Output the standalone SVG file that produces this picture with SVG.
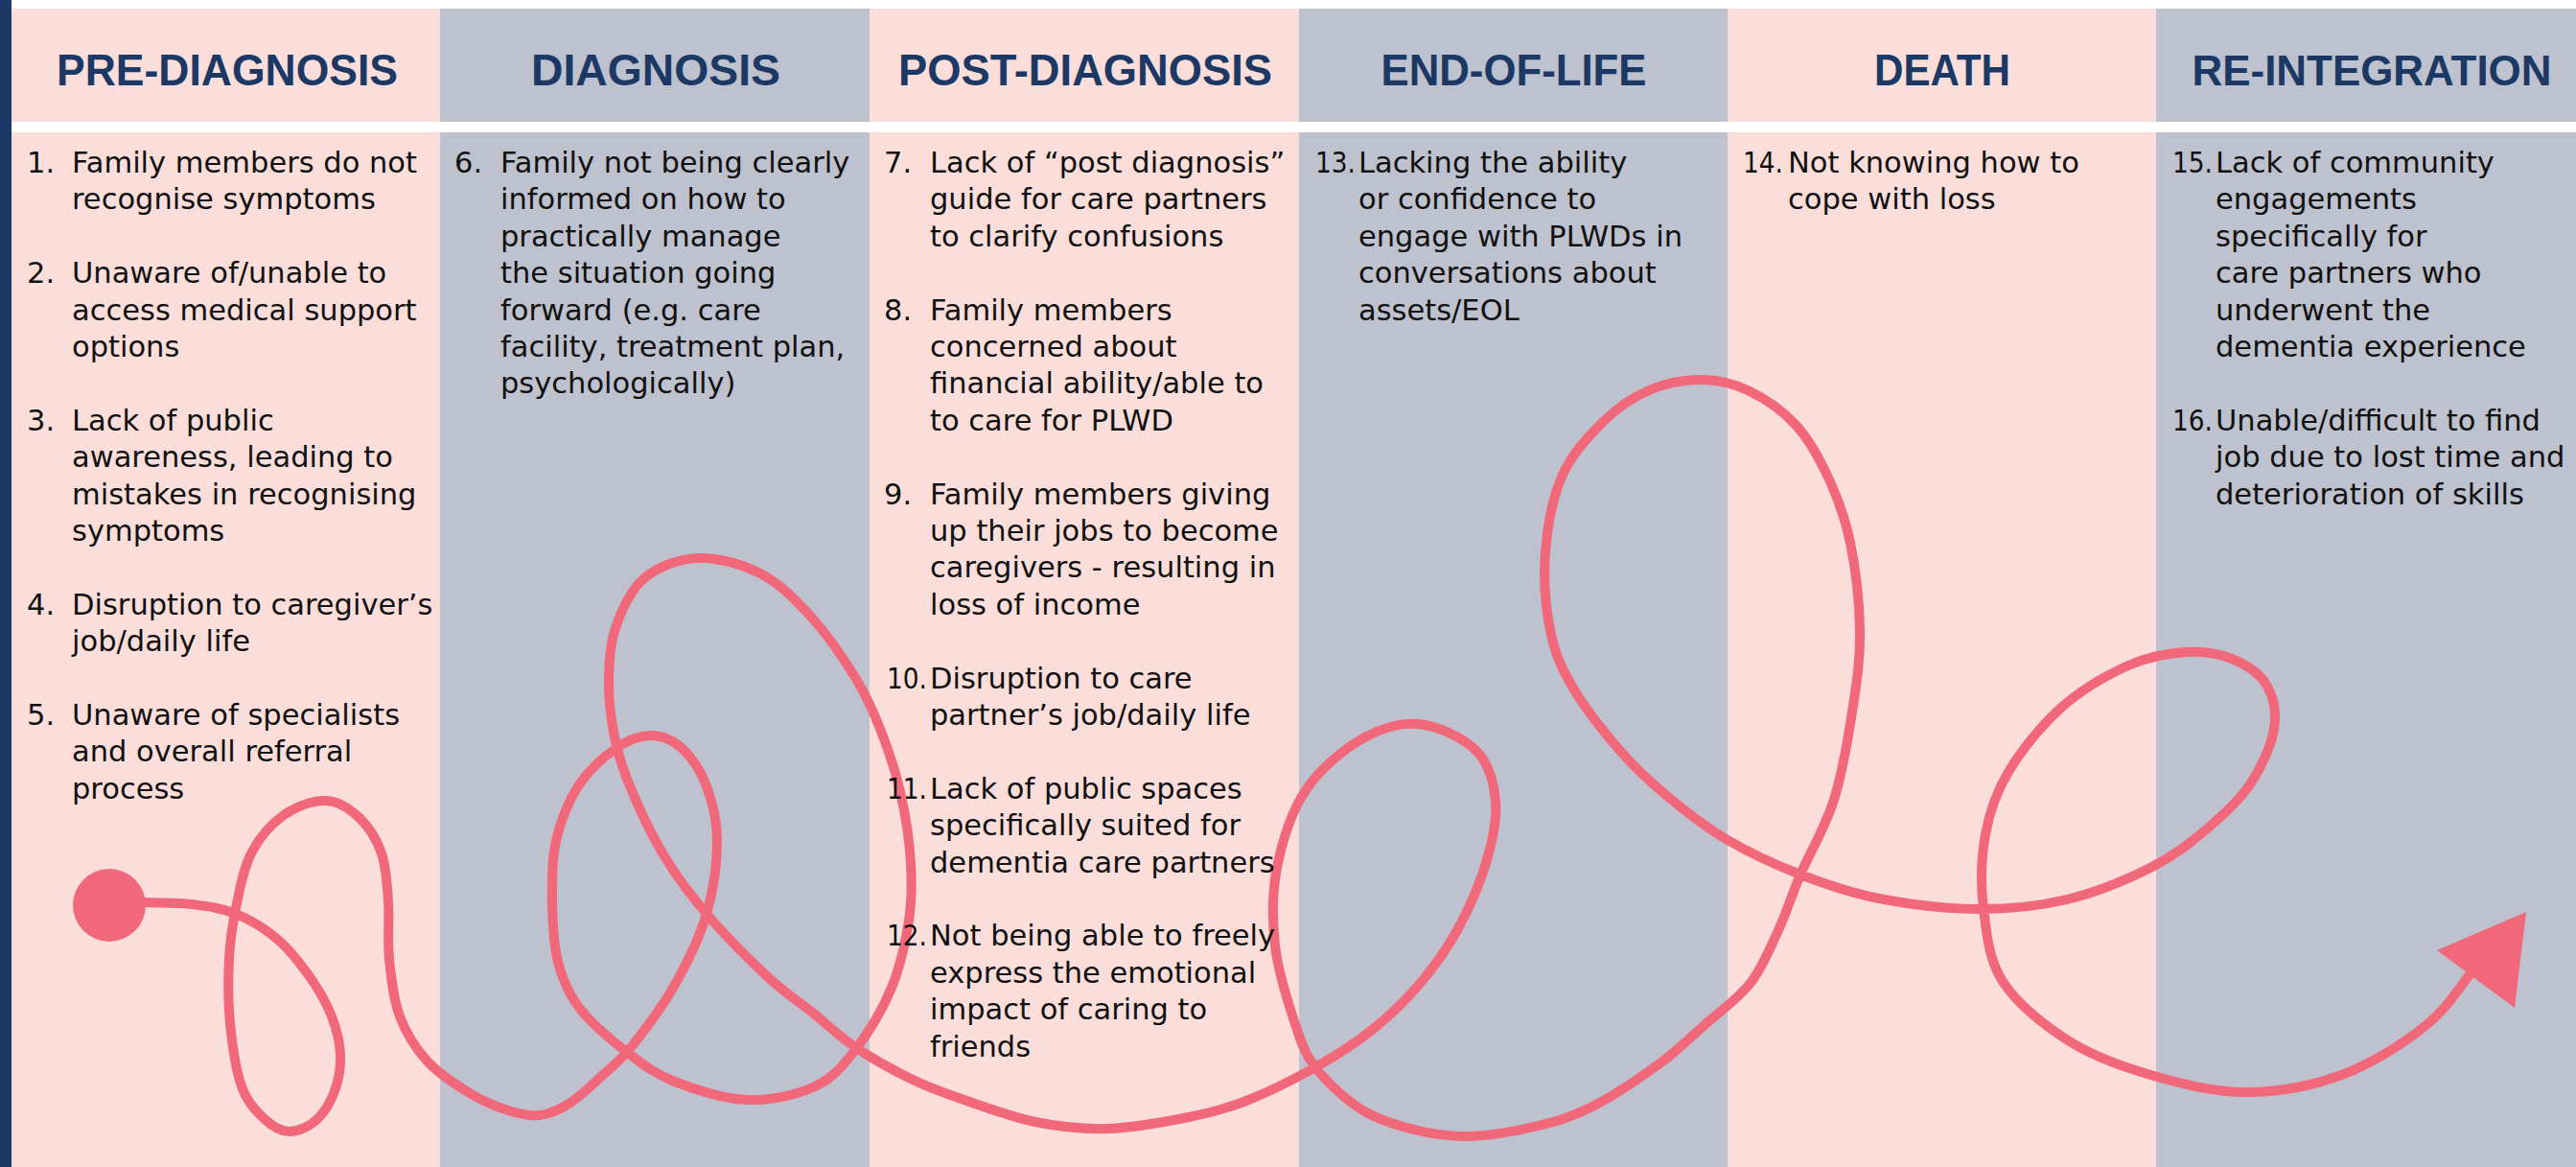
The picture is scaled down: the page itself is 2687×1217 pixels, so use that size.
<svg xmlns="http://www.w3.org/2000/svg" width="2687" height="1217" viewBox="0 0 2687 1217">
<style>
.pink{fill:#FBDEDA}
.grey{fill:#BEC2CE}
.hd{font-family:"Liberation Sans",Arial,sans-serif;font-weight:bold;font-size:47px;fill:#1C3864;text-anchor:middle}
.tx{font-family:"DejaVu Sans","Liberation Sans",sans-serif;font-size:30.5px;fill:#111111}
.curve{fill:none;stroke:#F2687B;stroke-width:10;stroke-linecap:round;stroke-linejoin:round}
.dot{fill:#F2687B}
</style>
<rect x="0" y="0" width="2687" height="1217" fill="#FFFFFF"/>
<g id="backgrounds">
<rect x="0" y="0" width="12" height="1217" fill="#1C3864"/>
<rect class="pink" x="12" y="9" width="447" height="118"/>
<rect class="grey" x="459" y="9" width="448" height="118"/>
<rect class="pink" x="907" y="9" width="448" height="118"/>
<rect class="grey" x="1355" y="9" width="447" height="118"/>
<rect class="pink" x="1802" y="9" width="447" height="118"/>
<rect class="grey" x="2249" y="9" width="438" height="118"/>
<rect class="pink" x="12" y="138" width="447" height="1079"/>
<rect class="grey" x="459" y="138" width="448" height="1079"/>
<rect class="pink" x="907" y="138" width="448" height="1079"/>
<rect class="grey" x="1355" y="138" width="447" height="1079"/>
<rect class="pink" x="1802" y="138" width="447" height="1079"/>
<rect class="grey" x="2249" y="138" width="438" height="1079"/>
</g>
<g id="connectors">
<circle class="dot" cx="114" cy="944" r="38"/>
<path class="curve" d="M150,941 C166.7,941.7 184,941 200,943 C216,945 231,946.8 246,953 C261,959.2 277,968.8 290,980 C303,991.2 314.7,1006.7 324,1020 C333.3,1033.3 340.8,1046.7 346,1060 C351.2,1073.3 354.5,1087 355,1100 C355.5,1113 353.2,1126.7 349,1138 C344.8,1149.3 337.8,1161 330,1168 C322.2,1175 311,1180.2 302,1180 C293,1179.8 284.3,1174.8 276,1167 C267.7,1159.2 258,1149.7 252,1133 C246,1116.3 242.2,1089.2 240,1067 C237.8,1044.8 238,1020 239,1000 C240,980 242.2,965.3 246,947 C249.8,928.7 253.7,906.2 262,890 C270.3,873.8 283,859.2 296,850 C309,840.8 326.8,834.5 340,835 C353.2,835.5 365.3,843.8 375,853 C384.7,862.2 393,875.5 398,890 C403,904.5 403.7,921.7 405,940 C406.3,958.3 404,980 406,1000 C408,1020 410.3,1042.2 417,1060 C423.7,1077.8 433.8,1093.7 446,1107 C458.2,1120.3 476,1131.5 490,1140 C504,1148.5 517.8,1154.2 530,1158 C542.2,1161.8 552.2,1164.3 563,1163 C573.8,1161.7 583.8,1157.2 595,1150 C606.2,1142.8 619.2,1130 630,1120 C640.8,1110 647.5,1105.8 660,1090 C672.5,1074.2 692.2,1047.8 705,1025 C717.8,1002.2 729.8,977.7 737,953 C744.2,928.3 748,899.2 748,877 C748,854.8 743,836 737,820 C731,804 721.5,789.8 712,781 C702.5,772.2 691.5,767.2 680,767 C668.5,766.8 655.8,771.2 643,780 C630.2,788.8 613.5,803.8 603,820 C592.5,836.2 584.5,857 580,877 C575.5,897 575.7,919 576,940 C576.3,961 577.2,984.3 582,1003 C586.8,1021.7 592.8,1036.2 605,1052 C617.2,1067.8 638.5,1085.3 655,1098 C671.5,1110.7 683.2,1119.8 704,1128 C724.8,1136.2 755.7,1146.2 780,1147 C804.3,1147.8 831.3,1141.7 850,1133 C868.7,1124.3 878.7,1112.2 892,1095 C905.3,1077.8 920.7,1052.5 930,1030 C939.3,1007.5 944.7,981.7 948,960 C951.3,938.3 951.3,921.7 950,900 C948.7,878.3 945,852.5 940,830 C935,807.5 927.8,785.3 920,765 C912.2,744.7 905.5,728.5 893,708 C880.5,687.5 861.7,660.3 845,642 C828.3,623.7 812.5,608 793,598 C773.5,588 748.2,581.2 728,582 C707.8,582.8 686.3,590.8 672,603 C657.7,615.2 648.2,636.8 642,655 C635.8,673.2 635,692.3 635,712 C635,731.7 637.8,753.8 642,773 C646.2,792.2 651.5,807 660,827 C668.5,847 680.2,872 693,893 C705.8,914 719.2,932.2 737,953 C754.8,973.8 781.2,1000.5 800,1018 C818.8,1035.5 834.7,1045.7 850,1058 C865.3,1070.3 875.3,1080.8 892,1092 C908.7,1103.2 932,1116.2 950,1125 C968,1133.8 978.3,1137.5 1000,1145 C1021.7,1152.5 1054,1164.7 1080,1170 C1106,1175.3 1129.3,1177.8 1156,1177 C1182.7,1176.2 1216,1169.8 1240,1165 C1264,1160.2 1278,1156.7 1300,1148 C1322,1139.3 1350.3,1125.2 1372,1113 C1393.7,1100.8 1412,1089.3 1430,1075 C1448,1060.7 1465,1044.5 1480,1027 C1495,1009.5 1508.3,991.2 1520,970 C1531.7,948.8 1543.3,922.3 1550,900 C1556.7,877.7 1561.7,855.5 1560,836 C1558.3,816.5 1553.3,796.5 1540,783 C1526.7,769.5 1500,757 1480,755 C1460,753 1439.7,759.5 1420,771 C1400.3,782.5 1376.7,801.7 1362,824 C1347.3,846.3 1337.3,878 1332,905 C1326.7,932 1327,959.3 1330,986 C1333,1012.7 1343,1043.8 1350,1065 C1357,1086.2 1360.3,1097.7 1372,1113 C1383.7,1128.3 1402.8,1146.2 1420,1157 C1437.2,1167.8 1456.2,1173.3 1475,1178 C1493.8,1182.7 1512.2,1185.5 1533,1185 C1553.8,1184.5 1579,1180 1600,1175 C1621,1170 1637.3,1165.8 1659,1155 C1680.7,1144.2 1710,1124.5 1730,1110 C1750,1095.5 1763,1082.2 1779,1068 C1795,1053.8 1813.3,1041.3 1826,1025 C1838.7,1008.7 1846.3,988.8 1855,970 C1863.7,951.2 1868.3,934.7 1878,912 C1887.7,889.3 1903.8,863.3 1913,834 C1922.2,804.7 1928.5,765.5 1933,736 C1937.5,706.5 1940.5,685.3 1940,657 C1939.5,628.7 1935.5,592.5 1930,566 C1924.5,539.5 1916.5,518.5 1907,498 C1897.5,477.5 1887,458.2 1873,443 C1859,427.8 1839.7,414.8 1823,407 C1806.3,399.2 1790.2,396 1773,396 C1755.8,396 1736.7,399.8 1720,407 C1703.3,414.2 1688,424.3 1673,439 C1658,453.7 1640.2,472.3 1630,495 C1619.8,517.7 1614.2,548 1612,575 C1609.8,602 1612.3,633.5 1617,657 C1621.7,680.5 1627.8,695 1640,716 C1652.2,737 1673.3,763.8 1690,783 C1706.7,802.2 1721.3,815.5 1740,831 C1758.7,846.5 1779,862.5 1802,876 C1825,889.5 1851.7,901.8 1878,912 C1904.3,922.2 1929.2,931 1960,937 C1990.8,943 2030.3,947.8 2063,948 C2095.7,948.2 2126,945.2 2156,938 C2186,930.8 2219,917 2243,905 C2267,893 2282.7,880.5 2300,866 C2317.3,851.5 2335,835.7 2347,818 C2359,800.3 2369.2,777.3 2372,760 C2374.8,742.7 2371.3,726.2 2364,714 C2356.7,701.8 2342,692.7 2328,687 C2314,681.3 2298,678.8 2280,680 C2262,681.2 2241.7,684.3 2220,694 C2198.3,703.7 2170.8,719.5 2150,738 C2129.2,756.5 2108.2,783 2095,805 C2081.8,827 2075.3,846.2 2071,870 C2066.7,893.8 2065.8,922.2 2069,948 C2072.2,973.8 2074.5,1001.7 2090,1025 C2105.5,1048.3 2134.7,1071.5 2162,1088 C2189.3,1104.5 2223.2,1115.5 2254,1124 C2284.8,1132.5 2315.2,1139.7 2347,1139 C2378.8,1138.3 2414.2,1131.8 2445,1120 C2475.8,1108.2 2508.7,1087.2 2532,1068 C2555.3,1048.8 2567.3,1026 2585,1005"/>
<polygon class="dot" points="2542,991 2635,951 2623,1051"/>
</g>
<g id="pre-diagnosis">
<text class="hd" x="237" y="89" textLength="356" lengthAdjust="spacingAndGlyphs">PRE-DIAGNOSIS</text>
<text class="tx"><tspan x="28" y="180">1.</tspan><tspan x="75" y="180">Family members do not</tspan><tspan x="75" y="218.4">recognise symptoms</tspan></text>
<text class="tx"><tspan x="28" y="295.2">2.</tspan><tspan x="75" y="295.2">Unaware of/unable to</tspan><tspan x="75" y="333.6">access medical support</tspan><tspan x="75" y="372">options</tspan></text>
<text class="tx"><tspan x="28" y="448.8">3.</tspan><tspan x="75" y="448.8">Lack of public</tspan><tspan x="75" y="487.2">awareness, leading to</tspan><tspan x="75" y="525.6">mistakes in recognising</tspan><tspan x="75" y="564">symptoms</tspan></text>
<text class="tx"><tspan x="28" y="640.8">4.</tspan><tspan x="75" y="640.8">Disruption to caregiver’s</tspan><tspan x="75" y="679.2">job/daily life</tspan></text>
<text class="tx"><tspan x="28" y="756">5.</tspan><tspan x="75" y="756">Unaware of specialists</tspan><tspan x="75" y="794.4">and overall referral</tspan><tspan x="75" y="832.8">process</tspan></text>
</g>
<g id="diagnosis">
<text class="hd" x="684" y="89" textLength="260" lengthAdjust="spacingAndGlyphs">DIAGNOSIS</text>
<text class="tx"><tspan x="474" y="180">6.</tspan><tspan x="522" y="180">Family not being clearly</tspan><tspan x="522" y="218.4">informed on how to</tspan><tspan x="522" y="256.8">practically manage</tspan><tspan x="522" y="295.2">the situation going</tspan><tspan x="522" y="333.6">forward (e.g. care</tspan><tspan x="522" y="372">facility, treatment plan,</tspan><tspan x="522" y="410.4">psychologically)</tspan></text>
</g>
<g id="post-diagnosis">
<text class="hd" x="1132" y="89" textLength="390" lengthAdjust="spacingAndGlyphs">POST-DIAGNOSIS</text>
<text class="tx"><tspan x="922" y="180">7.</tspan><tspan x="970" y="180">Lack of “post diagnosis”</tspan><tspan x="970" y="218.4">guide for care partners</tspan><tspan x="970" y="256.8">to clarify confusions</tspan></text>
<text class="tx"><tspan x="922" y="333.6">8.</tspan><tspan x="970" y="333.6">Family members</tspan><tspan x="970" y="372">concerned about</tspan><tspan x="970" y="410.4">financial ability/able to</tspan><tspan x="970" y="448.8">to care for PLWD</tspan></text>
<text class="tx"><tspan x="922" y="525.6">9.</tspan><tspan x="970" y="525.6">Family members giving</tspan><tspan x="970" y="564">up their jobs to become</tspan><tspan x="970" y="602.4">caregivers - resulting in</tspan><tspan x="970" y="640.8">loss of income</tspan></text>
<text class="tx"><tspan x="925" y="717.6" textLength="42" lengthAdjust="spacingAndGlyphs">10.</tspan><tspan x="970" y="717.6">Disruption to care</tspan><tspan x="970" y="756">partner’s job/daily life</tspan></text>
<text class="tx"><tspan x="925" y="832.8" textLength="42" lengthAdjust="spacingAndGlyphs">11.</tspan><tspan x="970" y="832.8">Lack of public spaces</tspan><tspan x="970" y="871.2">specifically suited for</tspan><tspan x="970" y="909.6">dementia care partners</tspan></text>
<text class="tx"><tspan x="925" y="986.4" textLength="42" lengthAdjust="spacingAndGlyphs">12.</tspan><tspan x="970" y="986.4">Not being able to freely</tspan><tspan x="970" y="1024.8">express the emotional</tspan><tspan x="970" y="1063.2">impact of caring to</tspan><tspan x="970" y="1101.6">friends</tspan></text>
</g>
<g id="end-of-life">
<text class="hd" x="1579" y="89" textLength="277" lengthAdjust="spacingAndGlyphs">END-OF-LIFE</text>
<text class="tx"><tspan x="1372" y="180" textLength="42" lengthAdjust="spacingAndGlyphs">13.</tspan><tspan x="1417" y="180">Lacking the ability</tspan><tspan x="1417" y="218.4">or confidence to</tspan><tspan x="1417" y="256.8">engage with PLWDs in</tspan><tspan x="1417" y="295.2">conversations about</tspan><tspan x="1417" y="333.6">assets/EOL</tspan></text>
</g>
<g id="death">
<text class="hd" x="2026" y="89" textLength="142" lengthAdjust="spacingAndGlyphs">DEATH</text>
<text class="tx"><tspan x="1818" y="180" textLength="42" lengthAdjust="spacingAndGlyphs">14.</tspan><tspan x="1865" y="180">Not knowing how to</tspan><tspan x="1865" y="218.4">cope with loss</tspan></text>
</g>
<g id="re-integration">
<text class="hd" x="2474" y="89" style="font-size:44px" textLength="375" lengthAdjust="spacingAndGlyphs">RE-INTEGRATION</text>
<text class="tx"><tspan x="2266" y="180" textLength="42" lengthAdjust="spacingAndGlyphs">15.</tspan><tspan x="2311" y="180">Lack of community</tspan><tspan x="2311" y="218.4">engagements</tspan><tspan x="2311" y="256.8">specifically for</tspan><tspan x="2311" y="295.2">care partners who</tspan><tspan x="2311" y="333.6">underwent the</tspan><tspan x="2311" y="372">dementia experience</tspan></text>
<text class="tx"><tspan x="2266" y="448.8" textLength="42" lengthAdjust="spacingAndGlyphs">16.</tspan><tspan x="2311" y="448.8">Unable/difficult to find</tspan><tspan x="2311" y="487.2">job due to lost time and</tspan><tspan x="2311" y="525.6">deterioration of skills</tspan></text>
</g>
</svg>
